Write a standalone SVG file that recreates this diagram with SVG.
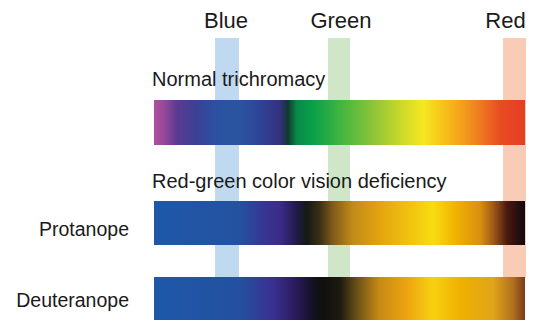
<svg xmlns="http://www.w3.org/2000/svg" width="537" height="320" viewBox="0 0 537 320">
<style>
text{font-family:"Liberation Sans",Arial,Helvetica,sans-serif;fill:#1a1a1a}
.top{font-size:22px;text-anchor:middle}
.head{font-size:20px}
.lab{font-size:19.5px;text-anchor:end}
</style>
<defs>
<linearGradient id="gN" x1="154" x2="525" y1="0" y2="0" gradientUnits="userSpaceOnUse">
<stop offset="0" stop-color="#b0509e"/>
<stop offset="0.024" stop-color="#9a4a9a"/>
<stop offset="0.062" stop-color="#5a3a90"/>
<stop offset="0.116" stop-color="#3a4296"/>
<stop offset="0.17" stop-color="#2a52a0"/>
<stop offset="0.232" stop-color="#2a54a0"/>
<stop offset="0.286" stop-color="#2e4496"/>
<stop offset="0.34" stop-color="#35307e"/>
<stop offset="0.361" stop-color="#0e3a30"/>
<stop offset="0.385" stop-color="#088a48"/>
<stop offset="0.429" stop-color="#0aa04a"/>
<stop offset="0.501" stop-color="#40b440"/>
<stop offset="0.59" stop-color="#8cc43a"/>
<stop offset="0.663" stop-color="#c8d82a"/>
<stop offset="0.725" stop-color="#f4e820"/>
<stop offset="0.771" stop-color="#f6c81a"/>
<stop offset="0.825" stop-color="#f4a41a"/>
<stop offset="0.879" stop-color="#ee7a20"/>
<stop offset="0.933" stop-color="#e84c22"/>
<stop offset="1" stop-color="#e43e24"/>
</linearGradient>
<linearGradient id="gP" x1="154" x2="525" y1="0" y2="0" gradientUnits="userSpaceOnUse">
<stop offset="0" stop-color="#1e58a8"/>
<stop offset="0.232" stop-color="#2452a0"/>
<stop offset="0.286" stop-color="#343a94"/>
<stop offset="0.34" stop-color="#3c2c88"/>
<stop offset="0.385" stop-color="#201a48"/>
<stop offset="0.412" stop-color="#141a14"/>
<stop offset="0.447" stop-color="#3a3016"/>
<stop offset="0.482" stop-color="#805a1a"/>
<stop offset="0.536" stop-color="#c08c18"/>
<stop offset="0.609" stop-color="#e4a410"/>
<stop offset="0.682" stop-color="#f0c010"/>
<stop offset="0.752" stop-color="#f8dc10"/>
<stop offset="0.817" stop-color="#f0b000"/>
<stop offset="0.879" stop-color="#d89010"/>
<stop offset="0.914" stop-color="#a05a18"/>
<stop offset="0.952" stop-color="#4a1810"/>
<stop offset="1" stop-color="#100810"/>
</linearGradient>
<linearGradient id="gD" x1="154" x2="525" y1="0" y2="0" gradientUnits="userSpaceOnUse">
<stop offset="0" stop-color="#1e58a8"/>
<stop offset="0.232" stop-color="#2450a0"/>
<stop offset="0.321" stop-color="#3a3090"/>
<stop offset="0.385" stop-color="#2a1a58"/>
<stop offset="0.429" stop-color="#121222"/>
<stop offset="0.456" stop-color="#101010"/>
<stop offset="0.501" stop-color="#1c1a10"/>
<stop offset="0.547" stop-color="#6a5018"/>
<stop offset="0.609" stop-color="#c88c14"/>
<stop offset="0.682" stop-color="#eca410"/>
<stop offset="0.752" stop-color="#f8d010"/>
<stop offset="0.825" stop-color="#f0b000"/>
<stop offset="0.914" stop-color="#e0a418"/>
<stop offset="0.968" stop-color="#b07020"/>
<stop offset="1" stop-color="#7a3a18"/>
</linearGradient>
</defs>
<rect width="537" height="320" fill="#ffffff"/>
<g id="stripes">
<rect id="stripe-blue" x="215" y="38" width="24" height="240" fill="#bfd9f0"/>
<rect id="stripe-green" x="328" y="38" width="22" height="240" fill="#cfe7c8"/>
<rect id="stripe-red" x="503" y="38" width="23" height="240" fill="#f9cdb5"/>
</g>
<g id="top-labels">
<text class="top" x="226" y="28">Blue</text>
<text class="top" x="341" y="28">Green</text>
<text class="top" x="505.5" y="28">Red</text>
</g>
<g id="normal">
<text class="head" x="152" y="86">Normal trichromacy</text>
<rect x="154" y="100" width="371" height="45" fill="url(#gN)"/>
</g>
<g id="deficiency-heading">
<text class="head" x="152" y="188">Red-green color vision deficiency</text>
</g>
<g id="protanope">
<text class="lab" x="129" y="236">Protanope</text>
<rect x="154" y="201" width="371" height="44" fill="url(#gP)"/>
</g>
<g id="deuteranope">
<text class="lab" x="129" y="307">Deuteranope</text>
<rect x="154" y="277" width="371" height="43" fill="url(#gD)"/>
</g>
</svg>
